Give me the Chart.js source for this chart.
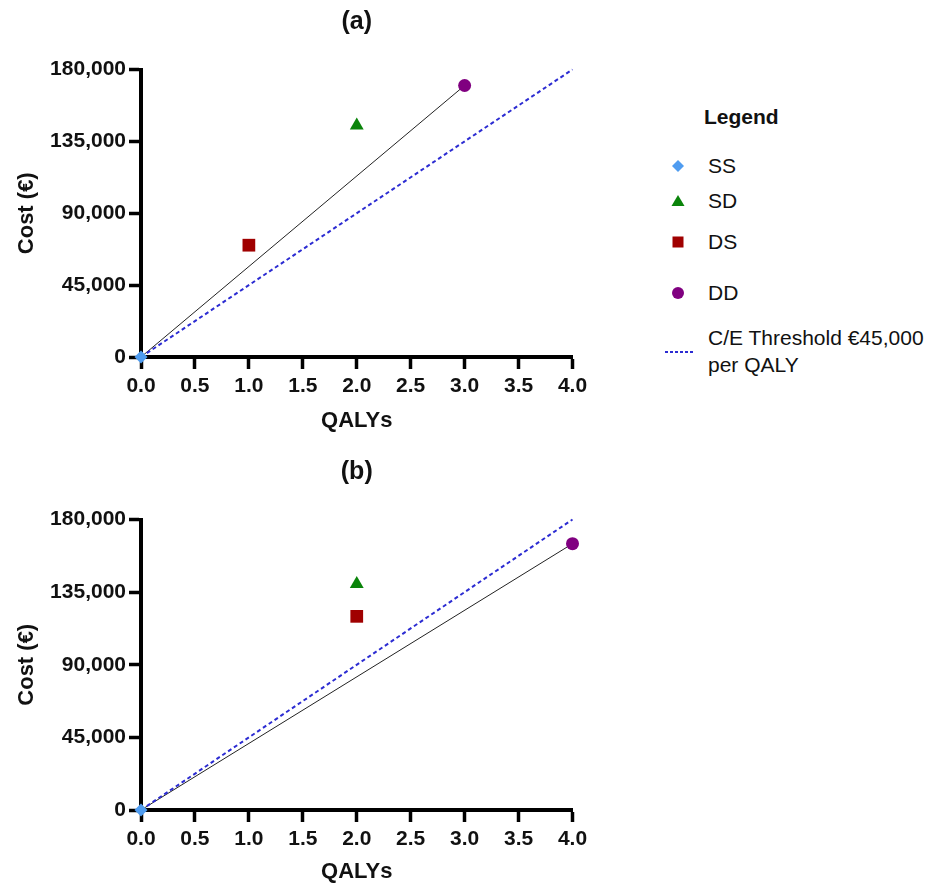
<!DOCTYPE html>
<html>
<head>
<meta charset="utf-8">
<script src="https://cdn.jsdelivr.net/npm/chart.js@4.4.1/dist/chart.umd.min.js"></script>
<style>
  html, body { margin: 0; padding: 0; background: #fff; }
  body { width: 931px; height: 886px; position: relative; overflow: hidden;
         font-family: "Liberation Sans", Arial, sans-serif; color: #111; }
  .plot { position: absolute; left: 0; width: 600px; }
  #legend { position: absolute; left: 0; top: 0; }
  .lg-title { position: absolute; left: 704px; top: 104px; font-size: 21px; font-weight: bold; line-height: 26px; }
  .lg-row   { position: absolute; left: 708px; font-size: 21px; line-height: 26px; white-space: nowrap; }
  .lg-sym   { position: absolute; }
  .lg-sym svg { display: block; }
</style>
</head>
<body>
<div class="plot" style="top:0;height:445px"><canvas id="c-a"></canvas></div>
<div class="plot" style="top:450px;height:436px"><canvas id="c-b"></canvas></div>
<div id="legend"></div>

<script>
// ── data ─────────────────────────────────────────────────────────────
const STRATEGIES = ['SS', 'SD', 'DS', 'DD']
const QALYS_A = [0, 2, 1, 3]
const COST_A  = [0, 145000, 70000, 170000]
const QALYS_B = [0, 2, 2, 4]
const COST_B  = [0, 140000, 120000, 165000]
// C/E threshold €45,000 per QALY, drawn across the whole x range
const THRESH_X = [0, 4]
const THRESH_Y = [0, 180000]
const X_TICKS = [0, 0.5, 1, 1.5, 2, 2.5, 3, 3.5, 4]
const Y_TICKS = [0, 45000, 90000, 135000, 180000]

// ── styles ───────────────────────────────────────────────────────────
const STYLE = {
  SS: { pointStyle: 'rectRot',  radius: 6.5, color: '#4f9cf0' },
  SD: { pointStyle: 'triangle', radius: 8,   color: '#0a840a' },
  DS: { pointStyle: 'rect',     radius: 9,   color: '#a00000' },
  DD: { pointStyle: 'circle',   radius: 6.5, color: '#800080' },
}
const THRESH_COLOR = '#2c2cd2'
const FONT = '"Liberation Sans", Arial, sans-serif'

Chart.defaults.font.family = FONT
Chart.defaults.color = '#111'
Chart.defaults.animation = false

function makeChart(id, title, qalys, cost, g) {
  const pts = STRATEGIES.map((s, i) => ({
    label: s,
    data: [{ x: qalys[i], y: cost[i] }],
    pointStyle: STYLE[s].pointStyle,
    pointRadius: STYLE[s].radius,
    backgroundColor: STYLE[s].color,
    borderColor: STYLE[s].color,
    borderWidth: 0,
    clip: false,
    order: 0,
  }))
  const last = STRATEGIES.length - 1
  const frontier = {
    label: 'frontier',
    data: [{ x: qalys[0], y: cost[0] }, { x: qalys[last], y: cost[last] }],
    showLine: true, pointRadius: 0,
    borderColor: '#222', borderWidth: 1,
    clip: false, order: 2,
  }
  const thresh = {
    label: 'threshold',
    data: THRESH_X.map((x, i) => ({ x, y: THRESH_Y[i] })),
    showLine: true, pointRadius: 0,
    borderColor: THRESH_COLOR, borderWidth: 2, borderDash: [4, 3],
    clip: false, order: 1,
  }

  const axisCommon = {
    type: 'linear',
    border: { display: true, color: '#000', width: 4 },
    grid: { drawOnChartArea: false, drawTicks: true, tickLength: 12, tickWidth: 3.5, tickColor: '#000' },
  }

  return new Chart(document.getElementById(id), {
    type: 'scatter',
    data: { datasets: [...pts, frontier, thresh] },
    options: {
      responsive: true,
      maintainAspectRatio: false,
      layout: { padding: { left: 0, right: 27.5, top: 0, bottom: 0 } },
      plugins: {
        legend: { display: false },
        tooltip: { enabled: false },
        title: {
          display: true, text: title, fullSize: false,
          font: { size: 25, weight: 'bold', lineHeight: 1.2 },
          color: '#111',
          padding: { top: 7, bottom: 32.5 },
        },
      },
      scales: {
        x: {
          ...axisCommon,
          min: 0, max: 4,
          afterBuildTicks: s => { s.ticks = X_TICKS.map(v => ({ value: v })) },
          ticks: { callback: v => Number(v).toFixed(1), font: { size: 21, weight: 'bold' }, color: '#111', padding: 5, maxRotation: 0 },
          title: { display: true, text: 'QALYs', font: { size: 22, weight: 'bold', lineHeight: 1.2 }, color: '#111',
                   padding: { top: 0, bottom: g.xTitleBottom } },
          afterFit: s => { s.height = g.xHeight },
        },
        y: {
          ...axisCommon,
          min: 0, max: 180000,
          afterBuildTicks: s => { s.ticks = Y_TICKS.map(v => ({ value: v })) },
          ticks: { callback: v => Number(v).toLocaleString('en-US'), font: { size: 21, weight: 'bold' }, color: '#111', padding: 3 },
          title: { display: true, text: 'Cost (€)', font: { size: 22, weight: 'bold', lineHeight: 1.2 }, color: '#111',
                   padding: { top: 13.3, bottom: 0 } },
          afterFit: s => { s.width = 141 },
        },
      },
    },
  })
}

makeChart('c-a', '(a)', QALYS_A, COST_A, { xHeight: 88, xTitleBottom: 10.8 })
makeChart('c-b', '(b)', QALYS_B, COST_B, { xHeight: 76, xTitleBottom: 1 })

// ── legend (HTML, symbols via inline svg) ────────────────────────────
function symbolSvg(s) {
  const c = STYLE[s].color
  const shape = {
    SS: `<polygon points="7,1 13,7 7,13 1,7" fill="${c}"/>`,
    SD: `<polygon points="7,1 13.5,12 0.5,12" fill="${c}"/>`,
    DS: `<rect x="1.5" y="1.5" width="11" height="11" fill="${c}"/>`,
    DD: `<circle cx="7" cy="7" r="6" fill="${c}"/>`,
  }[s]
  return `<svg width="14" height="14" viewBox="0 0 14 14">${shape}</svg>`
}
const LEGEND_Y = { SS: 166, SD: 201, DS: 242, DD: 293 }
let html = '<div class="lg-title">Legend</div>'
for (const s of STRATEGIES) {
  const cy = LEGEND_Y[s]
  html += `<div class="lg-sym" style="left:671px;top:${cy - 7}px">${symbolSvg(s)}</div>`
  html += `<div class="lg-row" style="top:${cy - 13}px">${s}</div>`
}
html += `<div class="lg-sym" style="left:665px;top:350px"><svg width="30" height="4"><line x1="0" y1="2" x2="30" y2="2" stroke="${THRESH_COLOR}" stroke-width="2" stroke-dasharray="3,2"/></svg></div>`
html += '<div class="lg-row" style="top:325px">C/E Threshold €45,000</div>'
html += '<div class="lg-row" style="top:352px">per QALY</div>'
document.getElementById('legend').innerHTML = html
</script>
</body>
</html>
